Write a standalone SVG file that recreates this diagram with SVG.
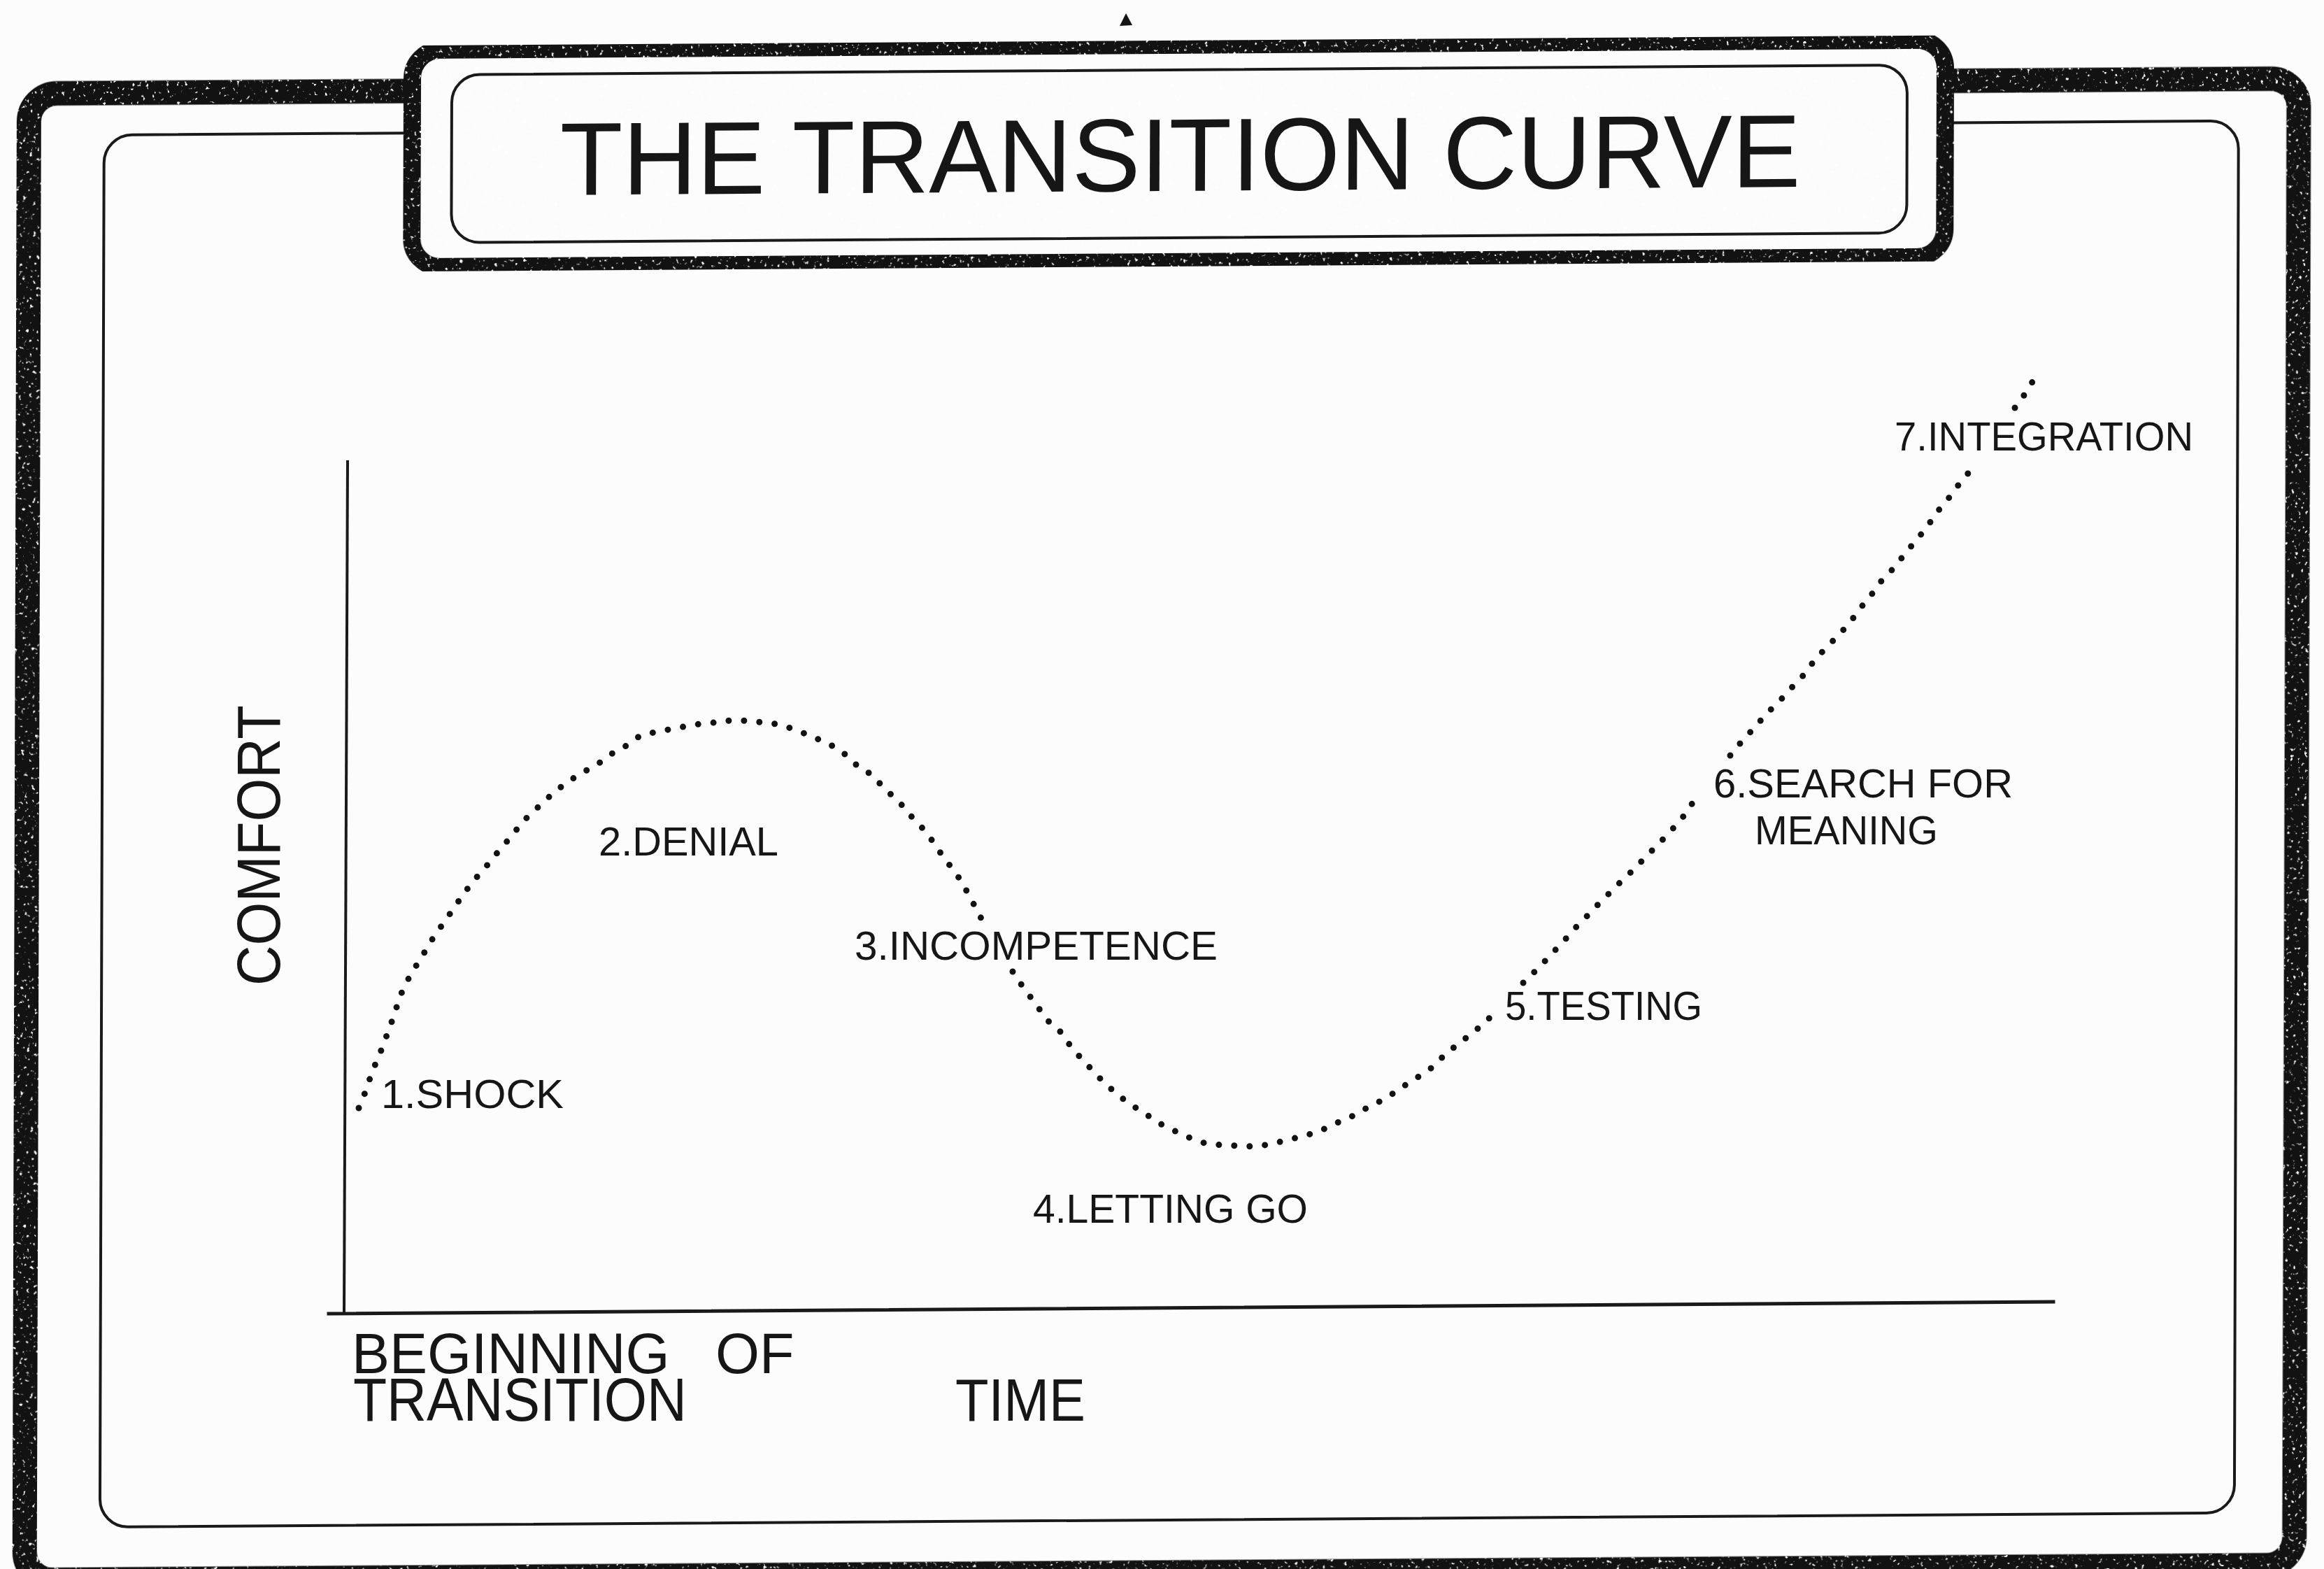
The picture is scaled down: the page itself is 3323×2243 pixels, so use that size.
<svg xmlns="http://www.w3.org/2000/svg" width="3323" height="2243" viewBox="0 0 3323 2243">
  <style>
    .band { stroke: #121212; }
    .thin { fill: none; stroke: #1a1a1a; stroke-width: 4; }
    .axis { fill: none; stroke: #1a1a1a; stroke-linecap: square; }
    .lbl { font-family: "Liberation Sans", Arial, Helvetica, sans-serif; fill: #161616; }
    .stage { font-size: 57px; }
    .curve { fill: none; stroke: #121212; stroke-width: 9; stroke-linecap: round; stroke-linejoin: round; stroke-dasharray: 0 22; }
  </style>
  <defs>
    <filter id="speck" x="-2%" y="-2%" width="104%" height="104%" color-interpolation-filters="sRGB">
      <feTurbulence type="fractalNoise" baseFrequency="0.2" numOctaves="2" seed="7" result="noise"/>
      <feColorMatrix in="noise" type="matrix" values="0 0 0 0 1  0 0 0 0 1  0 0 0 0 1  12 0 0 0 -7.9" result="white"/>
      <feComposite in="white" in2="SourceAlpha" operator="in" result="sp"/>
      <feMerge><feMergeNode in="SourceGraphic"/><feMergeNode in="sp"/></feMerge>
    </filter>
  </defs>

  <rect id="paper" x="0" y="0" width="3323" height="2243" fill="#fcfcfc"/>

  <!-- frame and title, with the slight skew of the scan -->
  <g id="frame" transform="matrix(1,-0.0066,-0.003,1,3.36,10.96)">
    <rect id="outer-frame" class="band" x="38.5" y="123" width="3245.5" height="2125" rx="40" fill="none" stroke-width="35" filter="url(#speck)"/>
    <rect id="inner-frame" class="thin" x="146" y="183" width="3052" height="1990" rx="40"/>
    <g id="title">
      <rect class="band" x="586.5" y="64.5" width="2192" height="310" rx="40" stroke-width="25" style="fill:#fcfcfc" filter="url(#speck)"/>
      <rect class="thin" x="643" y="100" width="2081" height="240" rx="40"/>
      <text class="lbl" x="798" y="273" font-size="148" textLength="1774" lengthAdjust="spacingAndGlyphs">THE TRANSITION CURVE</text>
    </g>
  </g>

  <polygon id="mark" points="1610,19 1601,37 1619,36" fill="#141414"/>

  <g id="axes">
    <line class="axis" x1="497" y1="660" x2="492" y2="1876" stroke-width="4"/>
    <line class="axis" x1="470" y1="1878" x2="2936" y2="1861" stroke-width="5"/>
  </g>

  <g id="connectors">
    <path class="curve" d="M513,1584 L522,1562 533,1530 543,1507 550,1488 558,1467 565,1446 573,1422 583,1401 596,1379 606,1363 618,1343 631,1324 645,1304 658,1285 671,1267 685,1250 700,1233 715,1214 731,1196 747,1175 765,1158 783,1141 807,1121 830,1106 854,1093 872,1079 894,1067 915,1052 939,1046 967,1041 992,1036 1021,1033 1044,1030 1061,1030 1081,1032 1099,1033 1119,1037 1139,1044 1159,1052 1182,1062 1201,1072 1219,1088 1231,1100 1245,1106 1258,1120 1271,1133 1288,1149 1298,1162 1311,1175 1327,1193 1339,1211 1351,1228 1365,1246 1378,1265 1385,1280 1396,1299 1403,1313"/>
    <path class="curve" d="M1448,1389 L1460,1407 1471,1422 1485,1441 1498,1459 1514,1472 1529,1493 1545,1512 1561,1529 1577,1546 1597,1564 1615,1578 1636,1591 1656,1605 1678,1616 1700,1626 1722,1634 1746,1637 1770,1638 1792,1639 1816,1636 1843,1629 1865,1624 1889,1616 1912,1605 1935,1595 1956,1583 1976,1573 1997,1560 2014,1548 2032,1537 2052,1523 2067,1506 2085,1493 2102,1479 2120,1465 2136,1449"/>
    <path class="curve" d="M2178,1405 L2188,1395 2202,1382 2217,1365 2233,1349 2250,1329 2266,1313 2281,1297 2299,1279 2317,1261 2338,1241 2355,1223 2371,1207 2388,1189 2405,1170 2416,1153 2429,1138"/>
    <path class="curve" d="M2474,1080 L2492,1058 2508,1041 2526,1020 2543,1004 2560,985 2578,966 2596,942 2613,924 2631,906 2648,886 2662,867 2676,850 2692,828 2709,811 2725,790 2741,771 2755,754 2769,733 2785,714 2802,691 2818,672"/>
    <path class="curve" d="M2881,583 L2897,561 2909,541"/>
  </g>

  <g id="stage-1"><text class="lbl stage" x="545" y="1584" textLength="261" lengthAdjust="spacingAndGlyphs">1.SHOCK</text></g>
  <g id="stage-2"><text class="lbl stage" x="856" y="1223" textLength="257" lengthAdjust="spacingAndGlyphs">2.DENIAL</text></g>
  <g id="stage-3"><text class="lbl stage" x="1222" y="1372" textLength="519" lengthAdjust="spacingAndGlyphs">3.INCOMPETENCE</text></g>
  <g id="stage-4"><text class="lbl stage" x="1477" y="1748" textLength="393" lengthAdjust="spacingAndGlyphs">4.LETTING GO</text></g>
  <g id="stage-5"><text class="lbl stage" x="2152" y="1458" textLength="282" lengthAdjust="spacingAndGlyphs">5.TESTING</text></g>
  <g id="stage-6">
    <text class="lbl stage" x="2450" y="1140" textLength="428" lengthAdjust="spacingAndGlyphs">6.SEARCH FOR</text>
    <text class="lbl stage" x="2509" y="1207" textLength="262" lengthAdjust="spacingAndGlyphs">MEANING</text>
  </g>
  <g id="stage-7"><text class="lbl stage" x="2709" y="644" textLength="427" lengthAdjust="spacingAndGlyphs">7.INTEGRATION</text></g>

  <g id="axis-labels">
    <text class="lbl" x="503" y="1963" font-size="81">BEGINNING <tspan x="1023">OF</tspan></text>
    <text class="lbl" x="505" y="2031" font-size="88" textLength="477" lengthAdjust="spacingAndGlyphs">TRANSITION</text>
    <text class="lbl" x="1366" y="2031" font-size="86" textLength="186" lengthAdjust="spacingAndGlyphs">TIME</text>
    <text class="lbl" transform="translate(400,1409) rotate(-90)" font-size="87" textLength="401" lengthAdjust="spacingAndGlyphs">COMFORT</text>
  </g>
</svg>
